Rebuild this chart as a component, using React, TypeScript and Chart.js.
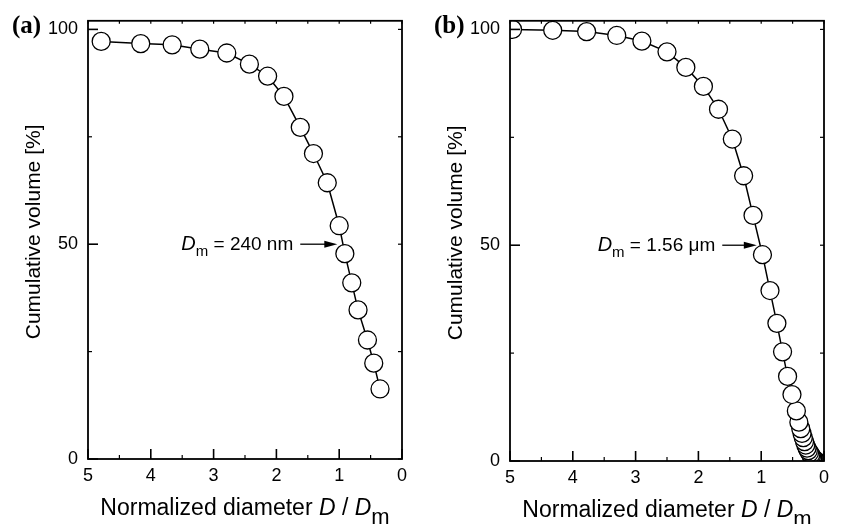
import React, { useEffect, useRef } from "react";
import { Chart, registerables } from "chart.js";

Chart.register(...registerables);

// ---- data ----
const xTickValues = [0, 1, 2, 3, 4, 5];
const xMinorTickValues = [0.5, 1.5, 2.5, 3.5, 4.5];
const yTickValues = [0, 50, 100];
const yMinorTickValues = [25, 75];

// panel (a): D_m = 240 nm
const diameterA = [0.35, 0.45, 0.55, 0.7, 0.8, 0.91, 1.0, 1.19, 1.41, 1.62, 1.88, 2.14, 2.43, 2.79, 3.22, 3.66, 4.16, 4.79];
const volumeA = [16.3, 22.3, 27.7, 34.7, 41.0, 47.8, 54.3, 64.3, 71.1, 77.2, 84.4, 89.1, 91.9, 94.5, 95.4, 96.4, 96.7, 97.2];

// panel (b): D_m = 1.56 um
const diameterB = [0.13, 0.15, 0.17, 0.18, 0.2, 0.21, 0.23, 0.25, 0.27, 0.29, 0.31, 0.33, 0.35, 0.37, 0.4, 0.44, 0.51, 0.58, 0.66, 0.75, 0.86, 0.98, 1.13, 1.28, 1.46, 1.68, 1.92, 2.2, 2.5, 2.9, 3.3, 3.78, 4.32, 4.96];
const volumeB = [0.1, 0.3, 0.5, 0.8, 1.1, 1.5, 1.9, 2.4, 3.0, 3.7, 4.5, 5.4, 6.4, 7.5, 9.0, 11.6, 15.4, 19.6, 25.3, 31.9, 39.5, 47.8, 56.9, 66.1, 74.6, 81.5, 86.8, 91.2, 94.8, 97.3, 98.6, 99.5, 99.8, 100.0];

const panelLabels = ["(a)", "(b)"];
const medianTexts = [" = 240 nm", " = 1.56 \u03bcm"];
const medianValue = 50;
const arrowFrom = 1.62;
const arrowToA = 1.03;
const arrowToB = 1.07;
const yTitleText = "Cumulative volume [%]";
const xTitleMain = "Normalized diameter ";

const SANS = '"Liberation Sans", Arial, Helvetica, sans-serif';
const SERIF = '"Liberation Serif", "Times New Roman", serif';

type PanelCfg = {
  xs: number[];
  ys: number[];
  label: string;
  median: string;
  arrowTo: number;
  yWidth: number;
  padRight: number;
  padTop: number;
  xHeight: number;
};

function makePlugin(cfg: PanelCfg) {
  return {
    id: "frameAndText",
    afterDatasetsDraw(chart: any) {
      const ctx: CanvasRenderingContext2D = chart.ctx;
      const { left, right, top, bottom } = chart.chartArea;
      const xs = chart.scales.x;
      const ys = chart.scales.y;
      ctx.save();
      ctx.strokeStyle = "#000";
      ctx.fillStyle = "#000";
      ctx.lineWidth = 1.8;
      ctx.strokeRect(left, top, right - left, bottom - top);

      const tick = (x1: number, y1: number, x2: number, y2: number, w = 1.6) => {
        ctx.lineWidth = w;
        ctx.beginPath();
        ctx.moveTo(x1, y1);
        ctx.lineTo(x2, y2);
        ctx.stroke();
      };
      xTickValues.forEach((v) => {
        const p = xs.getPixelForValue(v);
        tick(p, bottom, p, bottom - 10);
        tick(p, top, p, top + 3, 1.2);
      });
      xMinorTickValues.forEach((v) => {
        const p = xs.getPixelForValue(v);
        tick(p, bottom, p, bottom - 4, 1.2);
        tick(p, top, p, top + 3, 1.2);
      });
      yTickValues.forEach((v) => {
        const p = ys.getPixelForValue(v);
        tick(left, p, left + 10, p);
        tick(right, p, right - 4, p, 1.2);
      });
      yMinorTickValues.forEach((v) => {
        const p = ys.getPixelForValue(v);
        tick(left, p, left + 4, p, 1.2);
        tick(right, p, right - 4, p, 1.2);
      });

      // median arrow
      const ay = ys.getPixelForValue(medianValue);
      const ax0 = xs.getPixelForValue(arrowFrom);
      const ax1 = xs.getPixelForValue(cfg.arrowTo);
      tick(ax0, ay, ax1 - 10, ay, 1.3);
      ctx.beginPath();
      ctx.moveTo(ax1, ay);
      ctx.lineTo(ax1 - 13, ay - 3.5);
      ctx.lineTo(ax1 - 13, ay + 3.5);
      ctx.closePath();
      ctx.fill();

      // median text
      ctx.textBaseline = "alphabetic";
      ctx.textAlign = "left";
      const fD = `italic 20px ${SANS}`;
      const fm = `15px ${SANS}`;
      const fT = `19px ${SANS}`;
      ctx.font = fD;
      const wD = ctx.measureText("D").width;
      ctx.font = fm;
      const wm = ctx.measureText("m").width;
      ctx.font = fT;
      const wT = ctx.measureText(cfg.median).width;
      let tx = ax0 - 7 - (wD + wm + wT);
      const base = ay + 6;
      ctx.font = fD;
      ctx.fillText("D", tx, base);
      tx += wD;
      ctx.font = fm;
      ctx.fillText("m", tx, base + 6);
      tx += wm;
      ctx.font = fT;
      ctx.fillText(cfg.median, tx, base);

      // panel label
      ctx.font = `bold 25px ${SERIF}`;
      ctx.fillText(cfg.label, left - 76, 33);

      // y title
      ctx.save();
      ctx.font = `21px ${SANS}`;
      ctx.translate(left - 48, (top + bottom) / 2 - 8);
      ctx.rotate(-Math.PI / 2);
      ctx.textAlign = "center";
      ctx.fillText(yTitleText, 0, 0);
      ctx.restore();

      // x title
      const fMain = `23px ${SANS}`;
      const fIt = `italic 23px ${SANS}`;
      const fSub = `22px ${SANS}`;
      const parts: [string, string, number][] = [
        [xTitleMain, fMain, 0],
        ["D", fIt, 0],
        [" / ", fMain, 0],
        ["D", fIt, 0],
        ["m", fSub, 9],
      ];
      let total = 0;
      const widths = parts.map(([t, f]) => {
        ctx.font = f;
        const w = ctx.measureText(t).width;
        total += w;
        return w;
      });
      let xx = (left + right) / 2 - total / 2;
      const xb = bottom + 56;
      parts.forEach(([t, f, dy], i) => {
        ctx.font = f;
        ctx.fillText(t, xx, xb + dy);
        xx += widths[i];
      });
      ctx.restore();
    },
  };
}

function buildChart(canvas: HTMLCanvasElement, cfg: PanelCfg) {
  const points = cfg.xs.map((x, i) => ({ x, y: cfg.ys[i] }));
  return new Chart(canvas, {
    type: "line",
    data: {
      datasets: [
        {
          data: points,
          borderColor: "#000",
          borderWidth: 1.5,
          pointRadius: 9,
          pointBorderWidth: 1.3,
          pointBackgroundColor: "#fff",
          pointBorderColor: "#000",
          fill: false,
          tension: 0,
        },
      ],
    },
    options: {
      responsive: false,
      animation: false,
      events: [],
      layout: { padding: { left: 0, right: cfg.padRight, top: cfg.padTop, bottom: 0 } },
      plugins: { legend: { display: false }, tooltip: { enabled: false } },
      scales: {
        x: {
          type: "linear",
          min: 0,
          max: 5,
          reverse: true,
          grid: { display: false, drawTicks: false },
          border: { display: false },
          ticks: {
            padding: 6,
            color: "#000",
            font: { size: 18, family: SANS },
            callback: (v: any) => String(v),
          },
          afterBuildTicks: (s: any) => {
            s.ticks = xTickValues.map((v) => ({ value: v }));
          },
          afterFit: (s: any) => {
            s.height = cfg.xHeight;
          },
        },
        y: {
          type: "linear",
          min: 0,
          max: 102,
          grid: { display: false, drawTicks: false },
          border: { display: false },
          ticks: {
            padding: 10,
            color: "#000",
            font: { size: 18, family: SANS },
            callback: (v: any) => String(v),
          },
          afterBuildTicks: (s: any) => {
            s.ticks = yTickValues.map((v) => ({ value: v }));
          },
          afterFit: (s: any) => {
            s.width = cfg.yWidth;
          },
        },
      },
    } as any,
    plugins: [makePlugin(cfg)],
  });
}

export default function App() {
  const refA = useRef<HTMLCanvasElement | null>(null);
  const refB = useRef<HTMLCanvasElement | null>(null);

  useEffect(() => {
    const a = buildChart(refA.current!, {
      xs: diameterA,
      ys: volumeA,
      label: panelLabels[0],
      median: medianTexts[0],
      arrowTo: arrowToA,
      yWidth: 88,
      padRight: 19,
      padTop: 11,
      xHeight: 65,
    });
    const b = buildChart(refB.current!, {
      xs: diameterB,
      ys: volumeB,
      label: panelLabels[1],
      median: medianTexts[1],
      arrowTo: arrowToB,
      yWidth: 89,
      padRight: 19,
      padTop: 12,
      xHeight: 63,
    });
    return () => {
      a.destroy();
      b.destroy();
    };
  }, []);

  return (
    <div style={{ position: "absolute", left: 0, top: 0, width: 843, height: 524, background: "#fff" }}>
      <canvas ref={refA} width={421} height={524} style={{ position: "absolute", left: 0, top: 0, width: 421, height: 524 }} />
      <canvas ref={refB} width={422} height={524} style={{ position: "absolute", left: 421, top: 0, width: 422, height: 524 }} />
    </div>
  );
}
